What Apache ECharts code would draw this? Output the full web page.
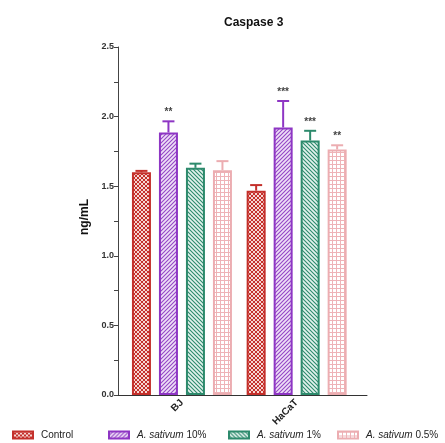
<!DOCTYPE html>
<html>
<head>
<meta charset="utf-8">
<script src="https://cdn.jsdelivr.net/npm/echarts@6/dist/echarts.min.js"></script>
<style>
  html, body { margin: 0; padding: 0; background: #fff; }
  #chart { width: 445px; height: 443px; }
</style>
</head>
<body>
<div id="chart"></div>
<script>
// Caspase 3 levels (ng/mL) by cell line and treatment
const categories = ['BJ', 'HaCaT'];
const seriesNames = ['Control', 'A. sativum 10%', 'A. sativum 1%', 'A. sativum 0.5%'];
const controlVals = [1.60, 1.468];
const sat10Vals   = [1.886, 1.922];
const sat1Vals    = [1.632, 1.828];
const sat05Vals   = [1.615, 1.764];
const controlErr = [0.01, 0.04];
const sat10Err   = [0.08, 0.19];
const sat1Err    = [0.03, 0.07];
const sat05Err   = [0.065, 0.03];
const controlStars = ['', ''];
const sat10Stars   = ['**', '***'];
const sat1Stars    = ['', '***'];
const sat05Stars   = ['', '**'];
const yTicks = [0, 0.5, 1.0, 1.5, 2.0, 2.5];

const values = [controlVals, sat10Vals, sat1Vals, sat05Vals];
const errors = [controlErr, sat10Err, sat1Err, sat05Err];
const stars  = [controlStars, sat10Stars, sat1Stars, sat05Stars];

const FONT = '"Liberation Sans", Arial, sans-serif';
const borderColors = ['#c4302b', '#8e36c4', '#2d8a6c', '#ecadb1'];

// Hatch fills for each treatment
function makePattern(kind) {
  const c = document.createElement('canvas');
  c.width = 4; c.height = 4;
  const g = c.getContext('2d');
  if (kind === 0) {
    g.fillStyle = '#f6d6d2'; g.fillRect(0, 0, 4, 4);
    g.strokeStyle = '#c4302b'; g.lineWidth = 1;
    g.beginPath();
    g.moveTo(-1, 5); g.lineTo(5, -1);
    g.moveTo(-1, -1); g.lineTo(5, 5);
    g.stroke();
  } else if (kind === 1) {
    g.fillStyle = '#efe0f7'; g.fillRect(0, 0, 4, 4);
    g.strokeStyle = '#9446c6'; g.lineWidth = 1.1;
    g.beginPath();
    g.moveTo(-1, 5); g.lineTo(5, -1);
    g.moveTo(-1, 1); g.lineTo(1, -1);
    g.moveTo(3, 5); g.lineTo(5, 3);
    g.stroke();
  } else if (kind === 2) {
    g.fillStyle = '#e3f2ed'; g.fillRect(0, 0, 4, 4);
    g.strokeStyle = '#2d8a6c'; g.lineWidth = 1.1;
    g.beginPath();
    g.moveTo(-1, -1); g.lineTo(5, 5);
    g.moveTo(3, -1); g.lineTo(5, 1);
    g.moveTo(-1, 3); g.lineTo(1, 5);
    g.stroke();
  } else {
    g.fillStyle = '#ffffff'; g.fillRect(0, 0, 4, 4);
    g.fillStyle = '#eeb3b7';
    g.fillRect(0, 0, 4, 1);
    g.fillRect(0, 0, 1, 4);
  }
  return { image: c, repeat: 'repeat' };
}

const BAR_W = 19, BAR_STEP = 27;
const offsets = [-1.5, -0.5, 0.5, 1.5].map(k => k * BAR_STEP);

const series = [];
seriesNames.forEach((name, i) => {
  series.push({
    name: name,
    type: 'bar',
    xAxisIndex: 1, yAxisIndex: 1,
    barWidth: BAR_W,
    barGap: ((BAR_STEP - BAR_W) / BAR_W * 100).toFixed(1) + '%',
    data: values[i],
    itemStyle: { color: makePattern(i), borderColor: borderColors[i], borderWidth: 2 },
    z: 2
  });
});
seriesNames.forEach((name, i) => {
  series.push({
    type: 'custom',
    xAxisIndex: 1, yAxisIndex: 1,
    z: 5,
    silent: true,
    data: categories.map((c, k) => [k, values[i][k], errors[i][k], stars[i][k]]),
    renderItem: function (params, api) {
      const k = api.value(0);
      const v = api.value(1), e = api.value(2);
      const base = api.coord([k, v]);
      const top = api.coord([k, v + e]);
      const x = base[0] + offsets[i];
      const col = borderColors[i];
      const children = [
        { type: 'line', shape: { x1: x, y1: base[1], x2: x, y2: top[1] },
          style: { stroke: col, lineWidth: 2 } },
        { type: 'line', shape: { x1: x - 6, y1: top[1], x2: x + 6, y2: top[1] },
          style: { stroke: col, lineWidth: 2 } }
      ];
      const s = stars[i][k];
      if (s) {
        children.push({ type: 'text', style: {
          text: s, x: x, y: top[1] - 9, textAlign: 'center', textVerticalAlign: 'middle',
          fill: '#444', font: 'bold 10px ' + FONT } });
      }
      return { type: 'group', children: children };
    }
  });
});

const legendLeft = [12, 108, 228, 337];
const legends = seriesNames.map((name, i) => ({
  data: [name],
  left: legendLeft[i],
  top: 430,
  padding: 0,
  itemWidth: 20, itemHeight: 7,
  itemGap: 0,
  icon: 'rect',
  selectedMode: false,
  formatter: function (n) {
    return n.indexOf('A. sativum') === 0 ? '{i|A. sativum}' + n.slice(10) : n;
  },
  textStyle: {
    fontFamily: FONT, fontSize: 10, color: '#222', padding: [0, 0, 0, 3],
    rich: { i: { fontFamily: FONT, fontSize: 10, fontStyle: 'italic', color: '#222' } }
  }
}));

const chart = echarts.init(document.getElementById('chart'), null, { renderer: 'canvas' });
chart.setOption({
  animation: false,
  backgroundColor: '#fff',
  title: {
    text: 'Caspase 3', left: 219, top: 12,
    textStyle: { fontFamily: FONT, fontSize: 12, fontWeight: 'bold', color: '#111' }
  },
  legend: legends,
  grid: [
    { left: 118, right: 78, top: 47, bottom: 48 },
    { left: 124.6, width: 229.4, top: 47, bottom: 48 }
  ],
  xAxis: [
    { gridIndex: 0, type: 'category', data: [''],
      axisLine: { lineStyle: { color: '#333', width: 1 } },
      axisTick: { show: false }, axisLabel: { show: false } },
    { gridIndex: 1, type: 'category', data: categories,
      axisLine: { show: false }, axisTick: { show: false },
      axisLabel: { rotate: 45, margin: 6, fontFamily: FONT, fontSize: 10, fontWeight: 'bold', color: '#222' } }
  ],
  yAxis: [
    { gridIndex: 0, type: 'value', min: 0, max: 2.5, interval: 0.25,
      name: 'ng/mL', nameLocation: 'middle', nameRotate: 90, nameGap: 21,
      nameTextStyle: { fontFamily: FONT, fontSize: 12, fontWeight: 'bold', color: '#111', padding: [0, 0, 0, 8] },
      axisLine: { show: true, lineStyle: { color: '#444', width: 1 } },
      axisTick: { show: true, length: 4, lineStyle: { color: '#444' } },
      splitLine: { show: false },
      axisLabel: {
        margin: 4, fontFamily: FONT, fontSize: 9, fontWeight: 'bold', color: '#333',
        formatter: function (v) {
          return yTicks.some(t => Math.abs(t - v) < 1e-9) ? v.toFixed(1) : '';
        }
      } },
    { gridIndex: 1, type: 'value', min: 0, max: 2.5, show: false, splitLine: { show: false } }
  ],
  series: series
});
</script>
</body>
</html>
